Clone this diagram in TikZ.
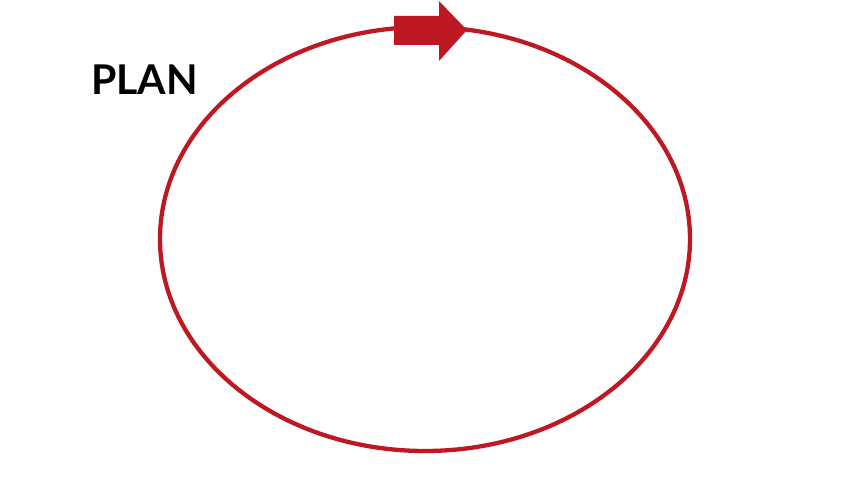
\documentclass[tikz,border=0pt]{standalone}
\usepackage{fontspec}
\setmainfont{Lato}
\definecolor{cyclered}{RGB}{190,24,34}
\begin{document}
\begin{tikzpicture}[x=1pt,y=1pt,
  ring/.style={draw=cyclered,line width=4.3pt},
  blockarrow/.style={fill=cyclered,draw=none},
  title/.style={font=\bfseries\fontsize{41}{41}\selectfont,anchor=base west,inner sep=0pt}]
\useasboundingbox (0,0) rectangle (853,480);
\draw[ring] (425,241) ellipse [x radius=265, y radius=212];
\fill[blockarrow] (394,464) -- (439,464) -- (439,479) -- (467,450) -- (439,419) -- (439,435) -- (394,435) -- cycle;
\node[title] (plan) at (91,385) {PLAN};
\end{tikzpicture}
\end{document}
